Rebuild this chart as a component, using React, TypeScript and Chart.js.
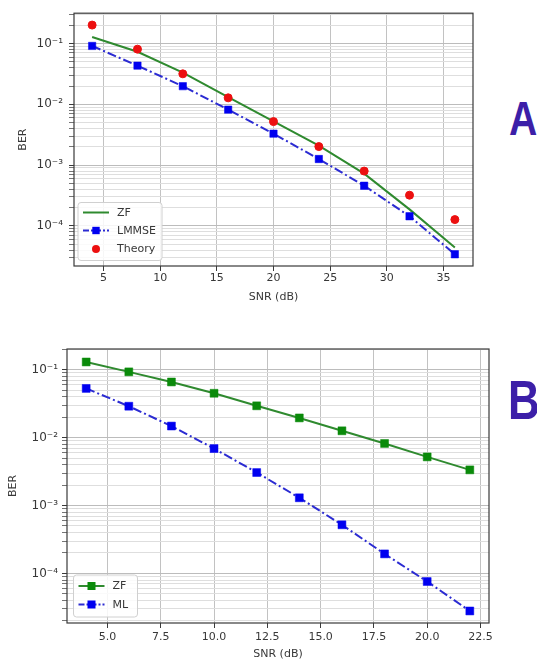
import React, { useEffect, useRef } from 'react';
import { Chart, registerables } from 'chart.js';

Chart.register(...registerables);

// ---------- data ----------
const snrA = [4, 8, 12, 16, 20, 24, 28, 32, 36];
const zfA = [0.128, 0.0733, 0.0334, 0.0131, 0.00526, 0.00209, 0.000723, 0.000187, 0.000044];
const lmmseA = [0.0915, 0.0433, 0.0199, 0.00818, 0.00329, 0.00126, 0.000458, 0.000144, 0.0000341];
const theoryA = [0.2017, 0.081, 0.0318, 0.0128, 0.0052, 0.00202, 0.000798, 0.00032, 0.000127];

const snrB = [4, 6, 8, 10, 12, 14, 16, 18, 20, 22];
const zfB = [0.13, 0.093, 0.066, 0.045, 0.0294, 0.0195, 0.0126, 0.0082, 0.0052, 0.00335];
const mlB = [0.053, 0.029, 0.0148, 0.0069, 0.00306, 0.0013, 0.00052, 0.000194, 0.000076, 0.000028];

const seriesNamesA = ['ZF', 'LMMSE', 'Theory'];
const seriesNamesB = ['ZF', 'ML'];
const xTitle = 'SNR (dB)';
const yTitle = 'BER';
const panelLabels = ['A', 'B'];

// ---------- helpers ----------
const FONT = "'DejaVu Sans', sans-serif";
const TEXT = '#383838';
const GREEN_LINE = '#2f8a2f';
const GREEN_MARK = '#0a8a0a';
const BLUE_LINE = '#2b2bd2';
const BLUE_MARK = '#0000f0';
const RED = '#ec1010';
const DASHDOT = [9, 3, 2, 3];

const SUP: Record<string, string> = {
  '-': '\u207B', '0': '\u2070', '1': '\u00B9', '2': '\u00B2', '3': '\u00B3',
  '4': '\u2074', '5': '\u2075', '6': '\u2076', '7': '\u2077', '8': '\u2078', '9': '\u2079',
};
const pow10Label = (e: number) => '10' + String(e).split('').map((c) => SUP[c] || c).join('');

function logGrid(min: number, max: number) {
  const out: { value: number; major: boolean }[] = [];
  for (let e = Math.floor(Math.log10(min)); e <= Math.ceil(Math.log10(max)); e++) {
    for (let k = 1; k <= 9; k++) {
      const v = k * Math.pow(10, e);
      if (v >= min && v <= max) out.push({ value: v, major: k === 1 });
    }
  }
  return out;
}
const isDecade = (v: number) => Math.abs(Math.log10(v) - Math.round(Math.log10(v))) < 1e-9;

type LegendItem = { label: string; line?: string; dash?: number[]; marker?: 'rect' | 'circle'; markColor?: string; markSize?: number };

function makeOverlay(legend: { dx: number; dyFromBottom: number; w: number; h: number; rows: number[]; items: LegendItem[] }) {
  return {
    id: 'overlay',
    afterDraw(chart: any) {
      const { ctx, chartArea: ca } = chart;
      ctx.save();
      // frame (spines)
      ctx.strokeStyle = '#3a3a3a';
      ctx.lineWidth = 1.2;
      ctx.setLineDash([]);
      ctx.strokeRect(ca.left, ca.top, ca.right - ca.left, ca.bottom - ca.top);
      // legend box
      const bx = ca.left + legend.dx;
      const by = ca.bottom - legend.dyFromBottom;
      ctx.beginPath();
      (ctx as any).roundRect(bx, by, legend.w, legend.h, 3);
      ctx.fillStyle = 'rgba(255,255,255,0.85)';
      ctx.fill();
      ctx.strokeStyle = '#d0d0d0';
      ctx.lineWidth = 1;
      ctx.stroke();
      legend.items.forEach((it, i) => {
        const y = by + legend.rows[i];
        const x0 = bx + 5;
        const x1 = bx + 31;
        if (it.line) {
          ctx.beginPath();
          ctx.setLineDash(it.dash || []);
          ctx.strokeStyle = it.line;
          ctx.lineWidth = 2;
          ctx.moveTo(x0, y);
          ctx.lineTo(x1, y);
          ctx.stroke();
          ctx.setLineDash([]);
        }
        if (it.marker) {
          const cx = (x0 + x1) / 2;
          const s = it.markSize || 7;
          ctx.fillStyle = it.markColor || '#000';
          if (it.marker === 'rect') {
            ctx.fillRect(cx - s / 2, y - s / 2, s, s);
          } else {
            ctx.beginPath();
            ctx.arc(cx, y, s / 2, 0, Math.PI * 2);
            ctx.fill();
          }
        }
        ctx.fillStyle = TEXT;
        ctx.font = `11px ${FONT}`;
        ctx.textBaseline = 'middle';
        ctx.textAlign = 'left';
        ctx.fillText(it.label, bx + 39, y + 0.5);
      });
      ctx.restore();
    },
  };
}

function makeScales(p: {
  xmin: number; xmax: number; step: number; xfmt: (v: number) => string;
  ymin: number; ymax: number; yWidth: number; xHeight: number; yTitlePad: number; xTickPad: number; yTickPad: number;
}) {
  return {
    x: {
      type: 'linear',
      min: p.xmin,
      max: p.xmax,
      border: { display: false },
      grid: { color: '#c2c2c2', lineWidth: 1, tickColor: '#3a3a3a', tickLength: 5, drawTicks: true },
      ticks: {
        stepSize: p.step, includeBounds: false, autoSkip: false, maxRotation: 0,
        padding: p.xTickPad, color: TEXT, font: { family: FONT, size: 11 },
        callback: (v: number) => p.xfmt(v),
      },
      title: { display: true, text: xTitle, color: TEXT, font: { family: FONT, size: 11 }, padding: { top: 0, bottom: 2 } },
      afterFit: (s: any) => { s.height = p.xHeight; },
    },
    y: {
      type: 'logarithmic',
      min: p.ymin,
      max: p.ymax,
      border: { display: false },
      afterBuildTicks: (s: any) => { s.ticks = logGrid(p.ymin, p.ymax); },
      grid: {
        color: (c: any) => (c.tick && c.tick.major ? '#bcbcbc' : '#dedede'),
        lineWidth: 1,
        tickColor: '#3a3a3a',
        tickWidth: (c: any) => (c.tick && c.tick.major ? 1 : 0.7),
        tickLength: 5,
        drawTicks: true,
      },
      ticks: {
        autoSkip: false, padding: p.yTickPad, color: TEXT, font: { family: FONT, size: 12 },
        callback: (v: number) => (isDecade(v) ? pow10Label(Math.round(Math.log10(v))) : ''),
      },
      title: { display: true, text: yTitle, color: TEXT, font: { family: FONT, size: 11 }, padding: { top: p.yTitlePad, bottom: 0 } },
      afterFit: (s: any) => { s.width = p.yWidth; },
    },
  };
}

function buildA(): any {
  return {
    type: 'line',
    data: {
      datasets: [
        {
          label: seriesNamesA[0], order: 3,
          data: snrA.map((x, i) => ({ x, y: zfA[i] })),
          borderColor: GREEN_LINE, borderWidth: 2, pointRadius: 0, tension: 0,
        },
        {
          label: seriesNamesA[1], order: 2,
          data: snrA.map((x, i) => ({ x, y: lmmseA[i] })),
          borderColor: BLUE_LINE, borderWidth: 2, borderDash: DASHDOT, tension: 0,
          pointStyle: 'rect', pointRadius: 5.2, pointBackgroundColor: BLUE_MARK, pointBorderColor: BLUE_MARK, pointBorderWidth: 0.5,
        },
        {
          label: seriesNamesA[2], order: 1,
          data: snrA.map((x, i) => ({ x, y: theoryA[i] })),
          showLine: false, pointStyle: 'circle', pointRadius: 4,
          pointBackgroundColor: RED, pointBorderColor: RED, borderColor: RED, backgroundColor: RED,
        },
      ],
    },
    options: {
      responsive: false, animation: false, devicePixelRatio: 1,
      layout: { padding: { top: 7, right: 17, left: 0, bottom: 0 } },
      plugins: { legend: { display: false }, tooltip: { enabled: false } },
      scales: makeScales({
        xmin: 2.4, xmax: 37.6, step: 5, xfmt: (v) => String(v),
        ymin: Math.pow(10, -4.66), ymax: Math.pow(10, -0.5),
        yWidth: 74, xHeight: 40, yTitlePad: 17, xTickPad: 1, yTickPad: 6,
      }),
    },
    plugins: [
      makeOverlay({
        dx: 4, dyFromBottom: 63.5, w: 84, h: 58, rows: [10, 28, 46.5],
        items: [
          { label: seriesNamesA[0], line: GREEN_LINE },
          { label: seriesNamesA[1], line: BLUE_LINE, dash: [6, 2, 2, 2], marker: 'rect', markColor: BLUE_MARK, markSize: 7.4 },
          { label: seriesNamesA[2], marker: 'circle', markColor: RED, markSize: 8 },
        ],
      }),
    ],
  };
}

function buildB(): any {
  return {
    type: 'line',
    data: {
      datasets: [
        {
          label: seriesNamesB[0], order: 2,
          data: snrB.map((x, i) => ({ x, y: zfB[i] })),
          borderColor: GREEN_LINE, borderWidth: 2, tension: 0,
          pointStyle: 'rect', pointRadius: 5.6, pointBackgroundColor: GREEN_MARK, pointBorderColor: GREEN_MARK, pointBorderWidth: 0.5,
        },
        {
          label: seriesNamesB[1], order: 1,
          data: snrB.map((x, i) => ({ x, y: mlB[i] })),
          borderColor: BLUE_LINE, borderWidth: 2, borderDash: DASHDOT, tension: 0,
          pointStyle: 'rect', pointRadius: 5.6, pointBackgroundColor: BLUE_MARK, pointBorderColor: BLUE_MARK, pointBorderWidth: 0.5,
        },
      ],
    },
    options: {
      responsive: false, animation: false, devicePixelRatio: 1,
      layout: { padding: { top: 19, right: 11, left: 0, bottom: 0 } },
      plugins: { legend: { display: false }, tooltip: { enabled: false } },
      scales: makeScales({
        xmin: 3.1, xmax: 22.9, step: 2.5, xfmt: (v) => v.toFixed(1),
        ymin: Math.pow(10, -4.73), ymax: Math.pow(10, -0.695),
        yWidth: 67, xHeight: 40, yTitlePad: 7, xTickPad: 3, yTickPad: 4,
      }),
    },
    plugins: [
      makeOverlay({
        dx: 6.5, dyFromBottom: 48, w: 64, h: 42, rows: [11, 29.5],
        items: [
          { label: seriesNamesB[0], line: GREEN_LINE, marker: 'rect', markColor: GREEN_MARK, markSize: 8 },
          { label: seriesNamesB[1], line: BLUE_LINE, dash: [6, 2, 2, 2], marker: 'rect', markColor: BLUE_MARK, markSize: 8 },
        ],
      }),
    ],
  };
}

function ChartCanvas({ build, left, top, width, height }: { build: () => any; left: number; top: number; width: number; height: number }) {
  const ref = useRef<HTMLCanvasElement>(null);
  useEffect(() => {
    const chart = new Chart(ref.current as HTMLCanvasElement, build());
    return () => chart.destroy();
  }, [build]);
  return (
    <canvas
      ref={ref}
      width={width}
      height={height}
      style={{ position: 'absolute', left, top, width, height, display: 'block' }}
    />
  );
}

const letterStyle: React.CSSProperties = {
  position: 'absolute',
  fontFamily: "'Liberation Sans', Arial, sans-serif",
  fontWeight: 700,
  color: '#3c1fa8',
  lineHeight: 1,
  whiteSpace: 'nowrap',
  transform: 'scaleX(0.8)',
  transformOrigin: 'left top',
};

export default function App() {
  return (
    <div style={{ position: 'absolute', left: 0, top: 0, width: 537, height: 663, overflow: 'hidden', background: '#fff' }}>
      <ChartCanvas build={buildA} left={0} top={0} width={490} height={306} />
      <ChartCanvas build={buildB} left={0} top={330} width={500} height={333} />
      <div style={{ ...letterStyle, left: 509, top: 94, fontSize: 49 }}>{panelLabels[0]}</div>
      <div style={{ ...letterStyle, left: 508, top: 373, fontSize: 55 }}>{panelLabels[1]}</div>
    </div>
  );
}
